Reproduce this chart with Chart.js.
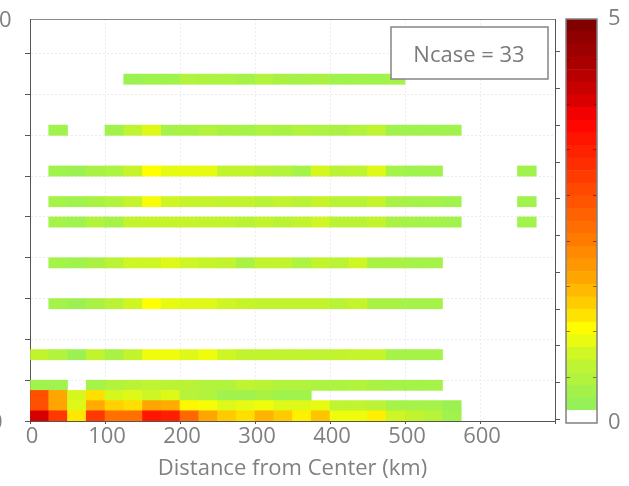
<!DOCTYPE html>
<html>
<head>
<meta charset="utf-8">
<script src="https://cdn.jsdelivr.net/npm/chart.js@4.4.0/dist/chart.umd.min.js"></script>
<style>
  html, body { margin: 0; padding: 0; background: #fff; overflow: hidden; }
  #wrap { position: relative; width: 629px; height: 486px; }
  #main { position: absolute; left: 0; top: 0; }
  #cbar { position: absolute; left: 540px; top: 0; }
</style>
</head>
<body>
<div id="wrap">
  <canvas id="main" width="629" height="486"></canvas>
  <canvas id="cbar" width="89" height="486"></canvas>
</div>
<script>
// distance bins: 25 km wide, bin k covers k*25 .. (k+1)*25 km
const binWidth = 25;
const rowHeight = 0.25;
const ncaseLabel = 'Ncase = 33';

// bottom edge of each occupied row (y units), same order as rows below
const rowBottoms = [0, 0.25, 0.5, 0.75, 1.5, 2.75, 3.75, 4.75, 5.25, 6.0, 7.0, 8.25];

// cell values per row, one entry per 25 km bin, 0 = empty
const row000 = [4.0, 3.1, 1.3, 3.1, 2.4, 2.4, 3.5, 3.4, 2.5, 1.8, 1.5, 1.35, 1.7, 1.5, 1.25, 1.55, 1.05, 1.05, 1.25, 0.85, 0.75, 0.6, 0.35];
const row025 = [2.8, 1.8, 0.95, 1.75, 1.45, 1.35, 1.8, 1.75, 1.2, 1.1, 0.95, 1.0, 1.05, 0.95, 0.95, 1.0, 0.7, 0.7, 0.65, 0.4, 0.4, 0.4, 0.3];
const row050 = [2.8, 1.8, 0.9, 1.35, 0.9, 0.95, 0.85, 0.95, 0.6, 0.55, 0.35, 0.35, 0.45, 0.35, 0.35];
const row075 = [0.35, 0.35, 0, 0.4, 0.55, 0.65, 0.7, 0.65, 0.65, 0.55, 0.55, 0.7, 0.65, 0.55, 0.55, 0.5, 0.5, 0.55, 0.45, 0.4, 0.4, 0.4];
const row150 = [0.75, 0.55, 0.3, 0.75, 0.45, 0.75, 1.05, 1.05, 0.95, 1.05, 0.85, 0.75, 0.75, 0.75, 0.75, 0.7, 0.75, 0.8, 0.8, 0.4, 0.4, 0.4];
const row275 = [0, 0.4, 0.3, 0.45, 0.65, 0.85, 1.15, 1.0, 0.95, 0.95, 0.85, 0.8, 0.75, 0.75, 0.75, 0.75, 0.65, 0.8, 0.45, 0.45, 0.4, 0.4];
const row375 = [0, 0.4, 0.35, 0.45, 0.65, 0.85, 0.85, 0.95, 0.85, 0.8, 0.75, 0.45, 0.75, 0.75, 0.5, 0.75, 0.65, 0.85, 0.45, 0.45, 0.4, 0.4];
const row475 = [0, 0.4, 0.35, 0.55, 0.4, 0.75, 0.8, 0.8, 0.8, 0.75, 0.75, 0.65, 0.75, 0.65, 0.75, 0.85, 0.65, 0.65, 0.75, 0.45, 0.4, 0.4, 0.35, 0, 0, 0, 0.35];
const row525 = [0, 0.4, 0.35, 0.45, 0.55, 0.8, 1.1, 0.85, 0.8, 0.8, 0.75, 0.75, 0.65, 0.75, 0.65, 0.8, 0.65, 0.65, 0.8, 0.45, 0.4, 0.4, 0.35, 0, 0, 0, 0.35];
const row600 = [0, 0.35, 0.3, 0.45, 0.5, 0.8, 1.15, 1.0, 1.0, 1.0, 0.75, 0.75, 0.65, 0.55, 0.4, 0.9, 0.65, 0.7, 0.95, 0.4, 0.35, 0.35, 0, 0, 0, 0, 0.35];
const row700 = [0, 0.35, 0, 0, 0.35, 0.7, 0.95, 0.4, 0.45, 0.55, 0.45, 0.4, 0.5, 0.45, 0.55, 0.5, 0.45, 0.55, 0.7, 0.35, 0.35, 0.35, 0.35];
const row825 = [0, 0, 0, 0, 0, 0.3, 0.35, 0.35, 0.55, 0.5, 0.5, 0.4, 0.55, 0.45, 0.4, 0.45, 0.35, 0.35, 0.35, 0.4];

const rows = [row000, row025, row050, row075, row150, row275, row375, row475, row525, row600, row700, row825];

// colour scale 0..5 (green -> yellow -> orange -> red -> dark red)
const cmapVals = [0.15, 0.4, 0.8, 1.15, 1.4, 1.8, 2.3, 2.8, 3.4, 3.75, 4.0, 4.5, 5.0];
const cmapRgb = [
  [142, 240, 96], [165, 242, 72], [198, 244, 42], [255, 255, 0], [255, 215, 0],
  [255, 165, 0], [255, 120, 0], [255, 80, 0], [255, 30, 0], [255, 0, 0],
  [215, 0, 0], [165, 0, 0], [125, 0, 0]
];
const cbarTicks = [0.56, 1.13, 1.69, 2.25, 2.81, 3.38, 3.94, 4.5];
const cbarLevels = 32;

function colorFor(v) {
  if (v <= cmapVals[0]) return `rgb(${cmapRgb[0].join(',')})`;
  for (let i = 1; i < cmapVals.length; i++) {
    if (v <= cmapVals[i]) {
      const t = (v - cmapVals[i - 1]) / (cmapVals[i] - cmapVals[i - 1]);
      const a = cmapRgb[i - 1], b = cmapRgb[i];
      return `rgb(${a.map((c, j) => Math.round(c + (b[j] - c) * t)).join(',')})`;
    }
  }
  return `rgb(${cmapRgb[cmapRgb.length - 1].join(',')})`;
}

Chart.defaults.font.family = "'Open Sans', sans-serif";
Chart.defaults.color = '#808080';

const datasets = rows.map((vals, r) => ({
  data: vals
    .map((v, k) => ({ x: [k * binWidth, (k + 1) * binWidth], y: rowBottoms[r] + rowHeight / 2, v }))
    .filter(d => d.v > 0),
  backgroundColor: ctx => colorFor(ctx.raw ? ctx.raw.v : 0),
  borderWidth: 0,
  grouped: false,
  barPercentage: 1,
  categoryPercentage: 1
}));

// text box + the clipped tick labels at the left edge
const overlay = {
  id: 'overlay',
  afterDraw(chart) {
    const { ctx, chartArea } = chart;
    ctx.save();
    ctx.font = "22px 'Open Sans'";
    ctx.fillStyle = '#808080';
    ctx.textBaseline = 'alphabetic';
    ctx.fillText('0', -1, 27);
    ctx.fillText('0', -10, 429);

    const bx = chartArea.right - 164, by = chartArea.top + 8;
    ctx.fillStyle = '#fff';
    ctx.fillRect(bx, by, 157, 52);
    ctx.strokeStyle = '#858585';
    ctx.lineWidth = 1.5;
    ctx.strokeRect(bx, by, 157, 52);
    ctx.fillStyle = '#7a7a7a';
    ctx.textAlign = 'center';
    ctx.fillText(ncaseLabel, bx + 78, by + 35);
    ctx.restore();
  }
};

new Chart(document.getElementById('main'), {
  type: 'bar',
  data: { datasets },
  options: {
    indexAxis: 'y',
    responsive: false,
    animation: false,
    layout: { padding: { top: 19, right: 74, bottom: 4, left: 0 } },
    plugins: { legend: { display: false }, tooltip: { enabled: false } },
    scales: {
      x: {
        type: 'linear', position: 'bottom', min: 0, max: 700, offset: false,
        ticks: { stepSize: 100, padding: 0, labelOffset: 2, font: { size: 22 }, color: '#808080',
                 maxRotation: 0, autoSkip: false, callback: v => (v <= 600 ? v : '') },
        grid: { color: '#ececec', tickColor: '#555', tickLength: 3, offset: false },
        border: { color: '#555', dash: [2, 2] },
        title: { display: true, text: 'Distance from Center (km)', font: { size: 22 }, color: '#808080', padding: 0 },
        afterFit: s => { s.height = 61; }
      },
      x2: {
        type: 'linear', position: 'top', min: 0, max: 700,
        ticks: { display: false }, grid: { display: false },
        border: { color: '#8a8a8a' },
        afterFit: s => { s.height = 0; }
      },
      y: {
        type: 'linear', position: 'left', min: 0, max: 9.85, offset: false,
        ticks: { stepSize: 1, display: false, includeBounds: false },
        grid: { color: '#ececec', tickColor: '#555', tickLength: 5, offset: false },
        border: { color: '#555', dash: [2, 2] },
        afterFit: s => { s.width = 30; }
      },
      y2: {
        type: 'linear', position: 'right', min: 0, max: 9.85,
        ticks: { stepSize: 1, display: false, includeBounds: false },
        grid: { drawOnChartArea: false, tickColor: '#555', tickLength: 5 },
        border: { color: '#555' },
        afterFit: s => { s.width = 0; }
      }
    }
  },
  plugins: [overlay]
});

// colour bar
const cbStep = 5 / cbarLevels;
const cbarSets = [];
for (let i = 0; i < cbarLevels; i++) {
  const lo = i * cbStep;
  cbarSets.push({
    data: [[lo, lo + cbStep]],
    backgroundColor: i === 0 ? '#ffffff' : colorFor(lo + cbStep / 2),
    borderWidth: 0,
    grouped: false,
    barPercentage: 1,
    categoryPercentage: 1
  });
}

const frame = {
  id: 'frame',
  afterDraw(chart) {
    const { ctx, chartArea: a } = chart;
    ctx.save();
    ctx.strokeStyle = '#808080';
    ctx.lineWidth = 1.5;
    ctx.strokeRect(a.left, a.top, a.right - a.left, a.bottom - a.top);
    ctx.restore();
  }
};

new Chart(document.getElementById('cbar'), {
  type: 'bar',
  data: { labels: [''], datasets: cbarSets },
  options: {
    responsive: false,
    animation: false,
    layout: { padding: { top: 19, bottom: 63, left: 0, right: 0 } },
    plugins: { legend: { display: false }, tooltip: { enabled: false } },
    scales: {
      x: { display: false },
      yg: {
        type: 'linear', position: 'left', min: 0, max: 5,
        ticks: { display: false },
        afterBuildTicks: s => { s.ticks = cbarTicks.map(v => ({ value: v })); },
        grid: { color: 'rgba(70,0,0,0.5)', z: 1, drawTicks: false },
        border: { display: false, dash: [4, 23] },
        afterFit: s => { s.width = 26; }
      },
      y: {
        type: 'linear', position: 'right', min: 0, max: 5,
        afterBuildTicks: s => { s.ticks = [{ value: 0 }, { value: 5 }]; },
        ticks: { font: { size: 22 }, color: '#808080', padding: 3 },
        grid: { display: false },
        border: { display: false },
        afterFit: s => { s.width = 32; }
      }
    }
  },
  plugins: [frame]
});
</script>
</body>
</html>
